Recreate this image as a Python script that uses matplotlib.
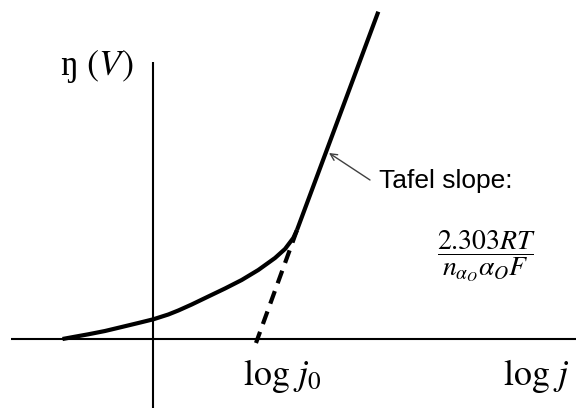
import matplotlib
matplotlib.use('Agg')
import matplotlib.pyplot as plt

plt.rcParams['mathtext.fontset'] = 'stix'

# polarization curve, read as (log j, overpotential) pairs
curve_logj = [-0.905, -0.78, -0.647, -0.48, -0.313, -0.147, 0.003, 0.153, 0.253,
              0.387, 0.553, 0.72, 0.887, 1.053, 1.22, 1.32, 1.403, 1.44]
curve_eta = [0.0, 0.023, 0.047, 0.08, 0.12, 0.16, 0.197, 0.245, 0.285,
             0.345, 0.425, 0.505, 0.59, 0.69, 0.81, 0.90, 1.01, 1.09]

# linear Tafel region and its extrapolation back to the axis
tafel_logj = [1.44, 2.253]
tafel_eta = [1.09, 3.273]
extrap_logj = [1.44, 1.03]
extrap_eta = [1.09, -0.04]

# axis extents
xaxis_logj = [-1.42, 4.23]
yaxis_eta = [-0.69, 2.77]

fig = plt.figure(figsize=(5.76, 4.08), dpi=100)
ax = fig.add_axes([0, 0, 1, 1])
ax.set_xlim(-1.53, 4.23)
ax.set_ylim(-0.69, 3.39)
ax.axis('off')

ax.plot(xaxis_logj, [0, 0], color='black', lw=1.5, solid_capstyle='butt')
ax.plot([0, 0], yaxis_eta, color='black', lw=1.5, solid_capstyle='butt')

ax.plot(curve_logj, curve_eta, color='black', lw=3, solid_capstyle='butt',
        solid_joinstyle='round')
ax.plot(tafel_logj, tafel_eta, color='black', lw=3, solid_capstyle='butt')
ax.plot(extrap_logj, extrap_eta, color='black', lw=3, dashes=(3.2, 2))

ax.annotate('', xy=(1.76, 1.86), xytext=(2.17, 1.59),
            arrowprops=dict(arrowstyle='->', color='#404040', lw=1,
                            mutation_scale=12, shrinkA=0, shrinkB=0))

ax.text(2.26, 1.507, 'Tafel slope:', fontsize=19, family='Liberation Sans',
        ha='left', va='baseline')
ax.text(3.33, 0.83, r'$\dfrac{2.303RT}{n_{\alpha_O}\alpha_O F}$', fontsize=20,
        ha='center', va='center')

ax.text(-0.93, 2.64, 'ŋ $(V)$', fontsize=26, family='Liberation Serif',
        ha='left', va='baseline')
ax.text(0.90, -0.46, r'$\log\,j_0$', fontsize=26, ha='left', va='baseline')
ax.text(3.50, -0.46, r'$\log\,j$', fontsize=26, ha='left', va='baseline')

fig.savefig('out.png', dpi=100)
